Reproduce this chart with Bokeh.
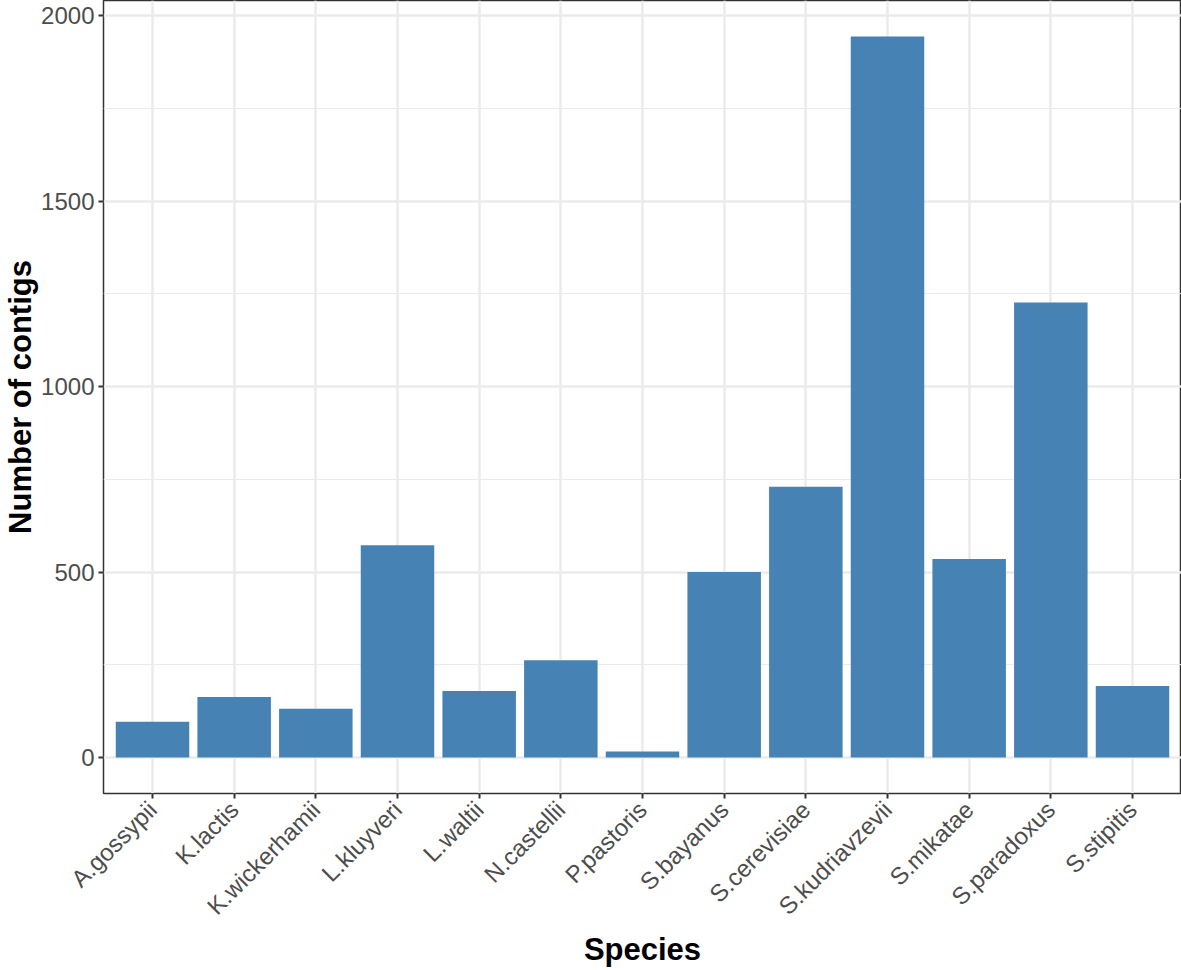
import math
from bokeh.plotting import figure
from bokeh.models import FactorRange, Range1d, FixedTicker, ColumnDataSource
from bokeh.embed import file_html
from bokeh.resources import INLINE

species = ["A.gossypii", "K.lactis", "K.wickerhamii", "L.kluyveri", "L.waltii",
           "N.castellii", "P.pastoris", "S.bayanus", "S.cerevisiae",
           "S.kudriavzevii", "S.mikatae", "S.paradoxus", "S.stipitis"]
contigs = [96, 163, 131, 572, 179, 262, 16, 500, 730, 1944, 535, 1227, 193]
y_ticks = [0, 500, 1000, 1500, 2000]
y_minor = [250, 750, 1250, 1750]

FONT = "Liberation Sans"

src = ColumnDataSource(dict(species=species, contigs=contigs))

ymax = max(contigs)
pad = ymax * 0.05

p = figure(
    x_range=FactorRange(factors=species, range_padding=0.1, range_padding_units="absolute"),
    y_range=Range1d(-pad, ymax + pad),
    width=1181, height=970,
    output_backend="svg", toolbar_location=None,
    min_border_left=0, min_border_right=0, min_border_top=0, min_border_bottom=0,
)
p.background_fill_color = "white"
p.border_fill_color = "white"
p.outline_line_color = "#333333"
p.outline_line_width = 1.5

p.vbar(x="species", top="contigs", width=0.9, source=src,
       fill_color="#4682B4", line_color=None)

# grids
p.xgrid.grid_line_color = "#ebebeb"
p.xgrid.grid_line_width = 2.5
p.ygrid.ticker = FixedTicker(ticks=y_ticks, minor_ticks=y_minor)
p.ygrid.grid_line_color = "#ebebeb"
p.ygrid.grid_line_width = 2.5
p.ygrid.minor_grid_line_color = "#ebebeb"
p.ygrid.minor_grid_line_width = 1.2
p.xgrid.level = "underlay"
p.ygrid.level = "underlay"

# axes
p.yaxis.ticker = FixedTicker(ticks=y_ticks, minor_ticks=y_minor)
for ax in (p.xaxis[0], p.yaxis[0]):
    ax.axis_line_color = None
    ax.major_tick_line_color = "#333333"
    ax.major_tick_line_width = 2
    ax.major_tick_out = 5
    ax.major_tick_in = 0
    ax.minor_tick_line_color = None
    ax.major_label_text_font = FONT
    ax.major_label_text_font_size = "24px"
    ax.major_label_text_color = "#4d4d4d"
    ax.axis_label_text_font = FONT
    ax.axis_label_text_font_size = "31px"
    ax.axis_label_text_font_style = "bold"
    ax.axis_label_text_color = "black"

p.xaxis.axis_label = "Species"
p.yaxis.axis_label = "Number of contigs"
p.xaxis.major_label_orientation = math.pi / 4
p.xaxis.major_label_standoff = 7
p.yaxis.major_label_standoff = 4
p.xaxis.axis_label_standoff = 0
p.yaxis.axis_label_standoff = 0

open("out.html", "w").write(file_html(p, INLINE))
